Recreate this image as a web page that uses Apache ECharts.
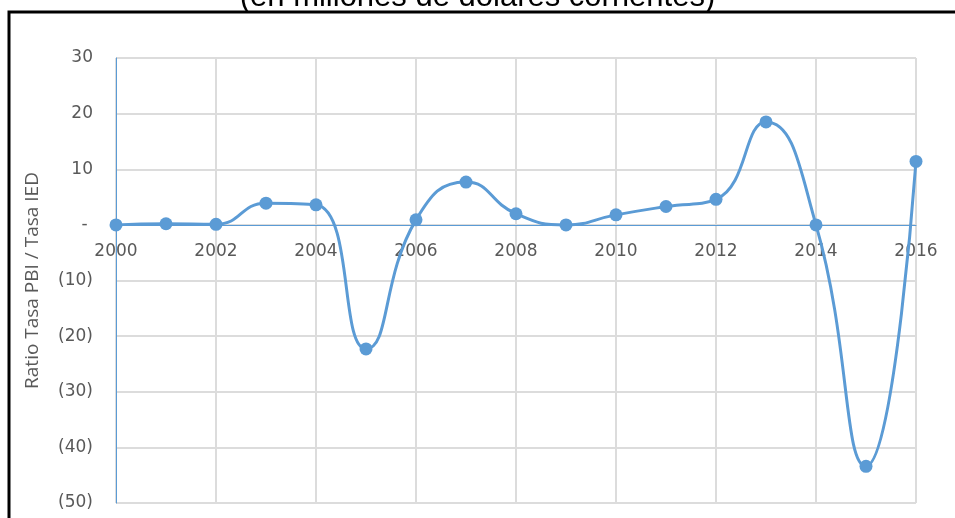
<!DOCTYPE html>
<html>
<head>
<meta charset="utf-8">
<script src="https://cdn.jsdelivr.net/npm/echarts@6/dist/echarts.min.js"></script>
<style>
  html, body { margin: 0; padding: 0; background: #fff; }
  #chart { width: 955px; height: 518px; }
</style>
</head>
<body>
<div id="chart"></div>
<script>
var years = [2000, 2001, 2002, 2003, 2004, 2005, 2006, 2007, 2008,
  2009, 2010, 2011, 2012, 2013, 2014, 2015, 2016]
var ratio = [0, 0.2, 0.1, 3.9, 3.6, -22.3, 0.9, 7.7, 2.0,
  0, 1.8, 3.3, 4.6, 18.5, 0, -43.4, 11.4]
var titleText = '(en millones de dólares corrientes)'
var yName = 'Ratio Tasa PBI / Tasa IED'

var points = years.map(function (y, i) { return [y, ratio[i]] })
var labelColor = '#595959'
var blue = '#5B9BD5'

var chart = echarts.init(document.getElementById('chart'))
chart.setOption({
  animation: false,
  graphic: [
    {
      type: 'rect',
      shape: { x: 9, y: 12, width: 980, height: 540 },
      style: { fill: 'none', stroke: '#000', lineWidth: 3 },
      z: 10
    },
    {
      type: 'text',
      left: 'center',
      top: -18,
      style: {
        text: titleText,
        font: '31px "Liberation Sans", Arial, sans-serif',
        fill: '#000'
      }
    }
  ],
  grid: {
    left: 116,
    right: 39,
    top: 58,
    bottom: 15,
    containLabel: false,
    outerBoundsMode: 'none'
  },
  xAxis: {
    type: 'value',
    min: 2000,
    max: 2016,
    interval: 2,
    // axis sits on the zero line
    offset: -278,
    axisLine: { onZero: false, lineStyle: { color: blue, width: 1 } },
    axisTick: { show: false },
    axisLabel: {
      color: labelColor,
      fontFamily: 'DejaVu Sans',
      fontSize: 17,
      margin: 18,
      formatter: function (v) { return String(v) }
    },
    splitLine: { show: true, lineStyle: { color: '#dcdcdc', width: 2 } }
  },
  yAxis: {
    type: 'value',
    min: -50,
    max: 30,
    interval: 10,
    name: yName,
    nameLocation: 'middle',
    nameGap: 74,
    nameRotate: 90,
    nameTextStyle: {
      color: labelColor,
      fontFamily: 'Open Sans',
      fontSize: 19
    },
    axisLine: { show: true, onZero: false, lineStyle: { color: blue, width: 1 } },
    axisTick: { show: false },
    axisLabel: {
      color: labelColor,
      fontFamily: 'DejaVu Sans',
      fontSize: 17,
      margin: 23,
      formatter: function (v) {
        if (v === 0) return '- '
        if (v < 0) return '(' + Math.abs(v) + ')'
        return String(v)
      }
    },
    splitLine: { show: true, lineStyle: { color: '#dcdcdc', width: 2 } }
  },
  series: [
    {
      type: 'line',
      data: points,
      smooth: 0.5,
      symbol: 'circle',
      symbolSize: 13,
      lineStyle: { color: blue, width: 3 },
      itemStyle: { color: blue }
    }
  ]
})
</script>
</body>
</html>
